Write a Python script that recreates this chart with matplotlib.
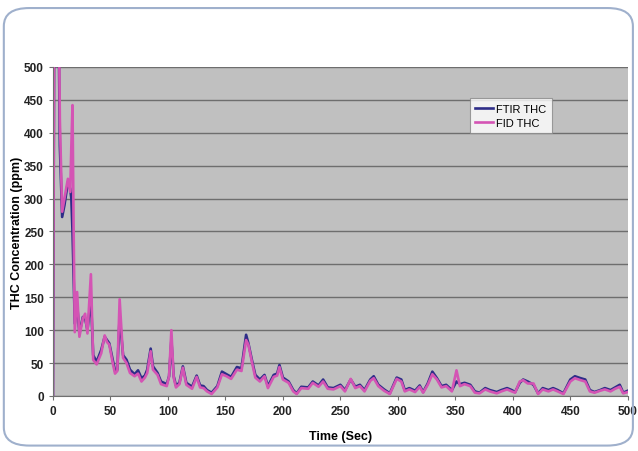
import matplotlib.pyplot as plt
from matplotlib.patches import FancyBboxPatch

# time (sec) and THC concentration (ppm)
time_sec = [0, 1, 2, 5, 6, 8, 10, 13, 15, 16, 17, 18, 19, 21, 23, 26, 28, 30, 33, 35,
            38, 42, 45, 47, 49, 52, 54, 56, 58, 61, 64, 67, 71, 74, 77, 80, 82, 85, 87, 91,
            94, 99, 101, 103, 105, 107, 110, 113, 116, 121, 125, 128, 131, 134, 138, 143, 147, 151, 155, 160,
            164, 168, 170, 173, 176, 180, 184, 187, 192, 195, 197, 200, 205, 209, 212, 216, 222, 226, 231, 235,
            239, 244, 250, 254, 259, 263, 267, 271, 276, 279, 283, 288, 293, 299, 303, 306, 310, 315, 319, 322,
            326, 330, 334, 338, 342, 347, 351, 354, 358, 363, 367, 371, 376, 380, 386, 390, 395, 399, 402, 406,
            409, 413, 418, 422, 426, 431, 435, 439, 444, 450, 454, 459, 463, 467, 471, 476, 480, 485, 489, 493,
            496, 500]

ftir_thc = [0, 520, 560, 560, 380, 272, 290, 325, 315, 300, 250, 180, 110, 140, 95, 120, 118, 100, 150, 62,
            52, 70, 90, 85, 80, 55, 38, 40, 120, 62, 55, 40, 33, 39, 27, 31, 40, 72, 45, 35,
            22, 18, 30, 85, 30, 16, 20, 45, 20, 14, 31, 16, 15, 9, 5, 15, 37, 33, 29, 44,
            42, 93, 80, 55, 32, 25, 32, 15, 32, 34, 47, 28, 22, 9, 4, 14, 13, 22, 16, 25,
            13, 12, 17, 9, 25, 14, 17, 9, 25, 30, 17, 10, 4, 28, 25, 9, 12, 8, 16, 6,
            19, 37, 27, 15, 17, 9, 22, 18, 20, 17, 7, 5, 12, 9, 6, 9, 12, 9, 6, 20,
            25, 22, 17, 4, 12, 9, 12, 9, 4, 25, 30, 27, 25, 9, 6, 9, 12, 9, 13, 17,
            5, 8]

fid_thc = [0, 560, 600, 600, 420, 280, 300, 330, 310, 380, 442, 250, 97, 158, 90, 118, 125, 95, 185, 55,
           48, 65, 92, 82, 78, 50, 34, 38, 147, 58, 50, 35, 30, 34, 22, 28, 35, 68, 40, 32,
           18, 15, 30, 100, 28, 13, 18, 43, 17, 11, 29, 13, 12, 7, 3, 13, 33, 30, 26, 40,
           38, 85, 78, 52, 28, 22, 30, 12, 29, 31, 44, 25, 20, 7, 3, 12, 11, 20, 14, 22,
           11, 10, 15, 7, 26, 12, 15, 7, 23, 27, 15, 8, 3, 26, 22, 7, 10, 6, 14, 5,
           17, 33, 25, 13, 15, 7, 39, 15, 18, 15, 5, 4, 10, 7, 4, 7, 10, 7, 5, 22,
           24, 19, 19, 3, 10, 7, 10, 7, 3, 22, 27, 24, 22, 7, 5, 8, 10, 7, 11, 14,
           4, 6]

plt.rcParams['font.family'] = ['Liberation Sans', 'DejaVu Sans']

fig = plt.figure(figsize=(6.38, 4.52), dpi=100)
fig.patch.set_facecolor('white')

ax = fig.add_axes([0.083, 0.1217, 0.901, 0.728])
ax.set_facecolor('#c0c0c0')

ax.plot(time_sec, ftir_thc, color='#2e2d88', linewidth=1.9, label='FTIR THC')
ax.plot(time_sec, fid_thc, color='#d454b4', linewidth=1.9, label='FID THC')

ax.set_xlim(0, 500)
ax.set_ylim(0, 500)
ax.set_xticks(range(0, 501, 50))
ax.set_yticks(range(0, 501, 50))
ax.yaxis.grid(True, color='#6e6e6e', linewidth=1)
ax.set_axisbelow(True)

for side in ['top', 'right']:
    ax.spines[side].set_visible(False)
for side in ['left', 'bottom']:
    ax.spines[side].set_color('#707070')

ax.tick_params(axis='both', labelsize=8.5, colors='#707070', length=3, labelcolor='#222222')
for lbl in ax.get_xticklabels() + ax.get_yticklabels():
    lbl.set_fontweight('bold')

ax.set_xlabel('Time (Sec)', fontsize=9, fontweight='bold', labelpad=9)
ax.set_ylabel('THC Concentration (ppm)', fontsize=9, fontweight='bold', labelpad=1)

leg = ax.legend(loc='upper left', bbox_to_anchor=(0.725, 0.905), fontsize=8, frameon=True,
                fancybox=False, handlelength=1.6, handletextpad=0.3, borderpad=0.5,
                labelspacing=0.35, borderaxespad=0)
leg.get_frame().set_facecolor('white')
leg.get_frame().set_edgecolor('#888888')
leg.get_frame().set_linewidth(0.8)

# rounded frame round the whole chart, no fill so the axes stay visible
frame = FancyBboxPatch((0.006, 0.012), 0.986, 0.968, boxstyle='round,pad=0,rounding_size=0.04',
                       transform=fig.transFigure, facecolor='none', edgecolor='#9fb0cc',
                       linewidth=1.5)
fig.patches.append(frame)

fig.savefig('out.png', dpi=100)
